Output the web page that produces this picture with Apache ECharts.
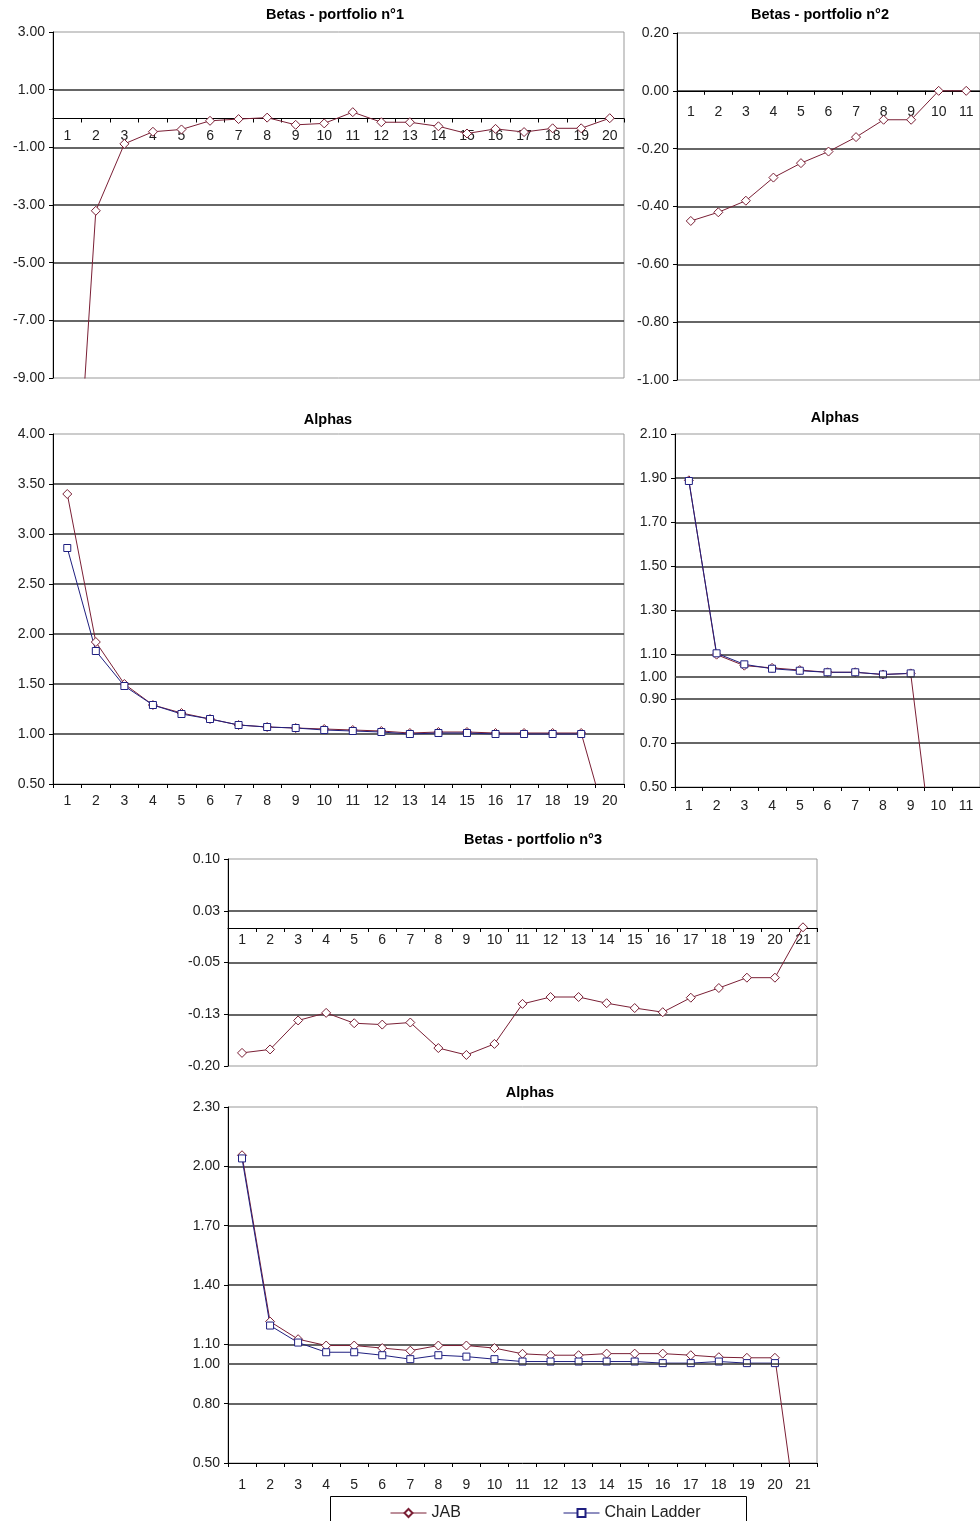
<!DOCTYPE html>
<html>
<meta charset="UTF-8">
<meta name="viewport" content="width=device-width, initial-scale=1">
<title>betas-alphas</title>
<style type="text/css">
    html,
    body {
        margin: 0px;
        width: 100%;
        height: 100%;
        background: #fff;
    }

    #chart {
        width: 980px;
        height: 1521px;
    }
</style>
<script src="https://cdn.jsdelivr.net/npm/echarts@6/dist/echarts.min.js"></script>

<body>
    <div id="chart"></div>
    <script>
        // categories (development years)
        const cats20 = ['1', '2', '3', '4', '5', '6', '7', '8', '9', '10', '11', '12', '13', '14', '15', '16', '17', '18', '19', '20'];
        const cats11 = ['1', '2', '3', '4', '5', '6', '7', '8', '9', '10', '11'];
        const cats21 = ['1', '2', '3', '4', '5', '6', '7', '8', '9', '10', '11', '12', '13', '14', '15', '16', '17', '18', '19', '20', '21'];

        // portfolio 1
        const betas1 = [-18.4, -3.2, -0.88, -0.46, -0.38, -0.08, -0.02, 0.03, -0.22, -0.17, 0.22, -0.13, -0.13, -0.27, -0.52, -0.36, -0.47, -0.34, -0.34, 0.01];
        const alphas1Jab = [3.40, 1.92, 1.50, 1.29, 1.21, 1.15, 1.09, 1.07, 1.06, 1.05, 1.04, 1.03, 1.01, 1.02, 1.02, 1.01, 1.01, 1.01, 1.01, 0];
        const alphas1Cl = [2.86, 1.83, 1.48, 1.29, 1.20, 1.15, 1.09, 1.07, 1.06, 1.04, 1.03, 1.02, 1.00, 1.01, 1.01, 1.00, 1.00, 1.00, 1.00, null];

        // portfolio 2
        const betas2 = [-0.45, -0.42, -0.38, -0.30, -0.25, -0.21, -0.16, -0.10, -0.10, 0, 0];
        const alphas2Jab = [1.89, 1.10, 1.05, 1.04, 1.03, 1.02, 1.02, 1.01, 1.015, 0, null];
        const alphas2Cl = [1.887, 1.106, 1.056, 1.036, 1.027, 1.02, 1.02, 1.01, 1.015, null, null];

        // portfolio 3
        const betas3 = [-0.181, -0.176, -0.134, -0.123, -0.138, -0.140, -0.137, -0.174, -0.184, -0.168, -0.110, -0.100, -0.100, -0.109, -0.116, -0.122, -0.101, -0.087, -0.072, -0.072, 0.001];
        const alphas3Jab = [2.056, 1.215, 1.126, 1.094, 1.094, 1.081, 1.068, 1.094, 1.094, 1.081, 1.052, 1.045, 1.045, 1.053, 1.053, 1.053, 1.045, 1.035, 1.032, 1.032, 0];
        const alphas3Cl = [2.04, 1.195, 1.109, 1.06, 1.06, 1.045, 1.025, 1.045, 1.038, 1.025, 1.013, 1.013, 1.013, 1.013, 1.013, 1.005, 1.005, 1.013, 1.005, 1.005, null];

        const JAB_COLOR = '#7a1f35';
        const CL_COLOR = '#1f1f80';
        const FONT = '"Liberation Sans", Arial, sans-serif';

        // excel style rounding (half away from zero)
        function fmt2(v) {
            const s = v < 0 ? -1 : 1;
            return (s * Math.round(Math.abs(v) * 100 + 1e-6) / 100).toFixed(2);
        }

        // margin is measured from the grid bottom, so the betas charts pull
        // their labels up under the zero line with a negative margin
        function xAxisOf(gi, cats, margin) {
            return {
                type: 'category',
                gridIndex: gi,
                data: cats,
                boundaryGap: true,
                axisLine: { show: true, onZero: true, lineStyle: { color: '#000', width: 1 } },
                axisTick: { show: true, length: 4, lineStyle: { color: '#000' } },
                axisLabel: { fontSize: 14, color: '#222', margin: margin, interval: 0, fontFamily: FONT },
                splitLine: { show: false }
            };
        }

        function yAxisOf(gi, min, max, interval) {
            return {
                type: 'value',
                gridIndex: gi,
                min: min,
                max: max,
                interval: interval,
                axisLine: { show: true, onZero: false, lineStyle: { color: '#000', width: 1 } },
                axisTick: { show: true, length: 4, lineStyle: { color: '#000' } },
                axisLabel: { fontSize: 14, color: '#222', margin: 8, fontFamily: FONT, formatter: fmt2 },
                splitLine: { show: true, showMinLine: false, showMaxLine: false, lineStyle: { color: '#333', width: 1.5 } }
            };
        }

        const oneLine = {
            silent: true,
            symbol: ['none', 'none'],
            animation: false,
            lineStyle: { color: '#333', width: 1.5, type: 'solid' },
            label: { show: true, position: 'start', formatter: '1.00', fontSize: 14, color: '#222', fontFamily: FONT, distance: 8 },
            data: [{ yAxis: 1 }]
        };

        function jab(gi, data, extra) {
            return Object.assign({
                name: 'JAB',
                type: 'line',
                xAxisIndex: gi,
                yAxisIndex: gi,
                data: data,
                symbol: 'diamond',
                symbolSize: 9,
                showAllSymbol: true,
                lineStyle: { color: JAB_COLOR, width: 1 },
                itemStyle: { color: '#fff', borderColor: JAB_COLOR, borderWidth: 1 },
                emphasis: { disabled: true }
            }, extra || {});
        }

        function chainLadder(gi, data) {
            return {
                name: 'Chain Ladder',
                type: 'line',
                xAxisIndex: gi,
                yAxisIndex: gi,
                data: data,
                symbol: 'rect',
                symbolSize: 7,
                showAllSymbol: true,
                lineStyle: { color: CL_COLOR, width: 1 },
                itemStyle: { color: '#fff', borderColor: CL_COLOR, borderWidth: 1 },
                emphasis: { disabled: true }
            };
        }

        function title(x, y, text) {
            return {
                type: 'text',
                x: x,
                y: y,
                style: { text: text, font: 'bold 14.5px ' + FONT, fill: '#000', align: 'center', verticalAlign: 'middle' }
            };
        }

        const gridStyle = { show: true, borderColor: '#999', borderWidth: 1, backgroundColor: '#fff' };

        const legendBase = {
            top: 1500, itemWidth: 36, itemHeight: 10, itemGap: 0,
            lineStyle: { width: 1 },
            textStyle: { fontSize: 16, color: '#222' }
        };

        const chart = echarts.init(document.querySelector('#chart'));
        const options = {
            animation: false,
            backgroundColor: '#fff',
            textStyle: { fontFamily: FONT },
            graphic: [
                title(335, 15, 'Betas - portfolio n°1'),
                title(820, 15, 'Betas - portfolio n°2'),
                title(328, 420, 'Alphas'),
                title(835, 418, 'Alphas'),
                title(533, 840, 'Betas - portfolio n°3'),
                title(530, 1093, 'Alphas'),
                {
                    type: 'rect',
                    shape: { x: 330.5, y: 1496.5, width: 416, height: 40 },
                    style: { fill: '#fff', stroke: '#000', lineWidth: 1 }
                }
            ],
            legend: [
                Object.assign({ data: ['JAB'], left: 385 }, legendBase),
                Object.assign({ data: ['Chain Ladder'], left: 558 }, legendBase)
            ],
            grid: [
                Object.assign({ left: 53, top: 32, width: 571, height: 346 }, gridStyle),
                Object.assign({ left: 677, top: 33, width: 308, height: 347 }, gridStyle),
                Object.assign({ left: 53, top: 434, width: 571, height: 350 }, gridStyle),
                Object.assign({ left: 675, top: 434, width: 308, height: 353 }, gridStyle),
                Object.assign({ left: 228, top: 859, width: 589, height: 207 }, gridStyle),
                Object.assign({ left: 228, top: 1107, width: 589, height: 356 }, gridStyle)
            ],
            xAxis: [
                xAxisOf(0, cats20, -249),
                xAxisOf(1, cats11, -275),
                xAxisOf(2, cats20, 10),
                xAxisOf(3, cats11, 12),
                xAxisOf(4, cats21, -133),
                xAxisOf(5, cats21, 15)
            ],
            yAxis: [
                yAxisOf(0, -9, 3, 2),
                yAxisOf(1, -1, 0.2, 0.2),
                yAxisOf(2, 0.5, 4, 0.5),
                yAxisOf(3, 0.5, 2.1, 0.2),
                yAxisOf(4, -0.2, 0.1, 0.075),
                yAxisOf(5, 0.5, 2.3, 0.3)
            ],
            series: [
                jab(0, betas1),
                jab(1, betas2),
                jab(2, alphas1Jab),
                chainLadder(2, alphas1Cl),
                jab(3, alphas2Jab, { markLine: oneLine }),
                chainLadder(3, alphas2Cl),
                jab(4, betas3),
                jab(5, alphas3Jab, { markLine: oneLine }),
                chainLadder(5, alphas3Cl)
            ]
        };
        chart.setOption(options);
    </script>
</body>

</html>
